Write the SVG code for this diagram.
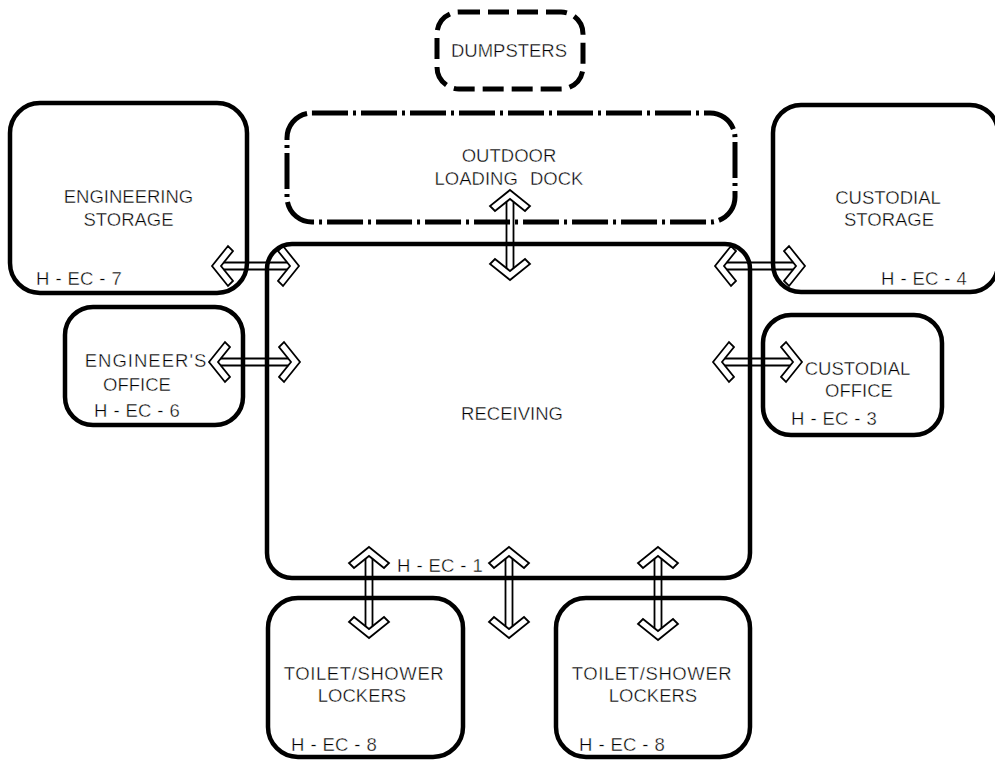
<svg xmlns="http://www.w3.org/2000/svg" xmlns:xlink="http://www.w3.org/1999/xlink" width="995" height="761" viewBox="0 0 995 761">
  <style>
    .room { fill: none; stroke: #000; stroke-width: 4.5; }
    .dash { fill: none; stroke: #000; stroke-width: 5; stroke-dasharray: 21 8; }
    .dashdot { fill: none; stroke: #000; stroke-width: 5; stroke-dasharray: 36 5 3 5; }
    .lbl, .tag { font-family: "Liberation Sans", Arial, sans-serif; font-size: 18.5px; fill: #000; stroke: #fff; stroke-width: 0.4; }
    .lbl { text-anchor: middle; }
    .head { fill: none; stroke: #000; stroke-width: 1.8; stroke-linejoin: miter; }
    .shaft { fill: none; stroke: #000; stroke-width: 1.8; }
  </style>
  <defs>
    <!-- open chevron arrowhead, tip at origin, pointing toward -x -->
    <path id="chev" class="head" d="M0,0 L16,-20 L21,-15 L9,0 L21,15 L16,20 Z"/>
  </defs>
  <rect width="995" height="761" fill="#fff"/>

  <g id="dumpsters">
    <rect class="dash" x="437" y="12" width="146" height="77" rx="22"/>
    <text class="lbl" x="509" y="57">DUMPSTERS</text>
  </g>

  <g id="loading-dock">
    <rect class="dashdot" x="287" y="113" width="448" height="109" rx="25"/>
    <text class="lbl" x="509" y="161.5">OUTDOOR</text>
    <text class="lbl" x="509" y="184.5" word-spacing="7">LOADING DOCK</text>
  </g>

  <g id="engineering-storage">
    <rect class="room" x="10" y="103" width="237" height="190" rx="30"/>
    <text class="lbl" x="128.5" y="203">ENGINEERING</text>
    <text class="lbl" x="128.5" y="226">STORAGE</text>
    <text class="tag" x="36" y="284.5">H<tspan dx="6">-</tspan><tspan dx="6">EC</tspan><tspan dx="6">-</tspan><tspan dx="6">7</tspan></text>
  </g>

  <g id="custodial-storage">
    <rect class="room" x="773" y="105" width="225" height="187" rx="28"/>
    <text class="lbl" x="888" y="204">CUSTODIAL</text>
    <text class="lbl" x="889" y="225.5">STORAGE</text>
    <text class="tag" x="881" y="284.5">H<tspan dx="6">-</tspan><tspan dx="6">EC</tspan><tspan dx="6">-</tspan><tspan dx="6">4</tspan></text>
  </g>

  <g id="engineers-office">
    <rect class="room" x="65" y="307" width="178" height="118" rx="28"/>
    <text class="lbl" x="146" y="367" letter-spacing="1">ENGINEER'S</text>
    <text class="lbl" x="137" y="390.5">OFFICE</text>
    <text class="tag" x="94" y="417">H<tspan dx="6">-</tspan><tspan dx="6">EC</tspan><tspan dx="6">-</tspan><tspan dx="6">6</tspan></text>
  </g>

  <g id="custodial-office">
    <rect class="room" x="763" y="315" width="179" height="120" rx="28"/>
    <text class="lbl" x="857.5" y="375">CUSTODIAL</text>
    <text class="lbl" x="859" y="397">OFFICE</text>
    <text class="tag" x="791" y="425">H<tspan dx="6">-</tspan><tspan dx="6">EC</tspan><tspan dx="6">-</tspan><tspan dx="6">3</tspan></text>
  </g>

  <g id="receiving">
    <rect class="room" x="267" y="244" width="483" height="334" rx="25"/>
    <text class="lbl" x="512" y="419.5">RECEIVING</text>
    <text class="tag" x="397" y="572">H<tspan dx="6">-</tspan><tspan dx="6">EC</tspan><tspan dx="6">-</tspan><tspan dx="6">1</tspan></text>
  </g>

  <g id="toilet-shower-1">
    <rect class="room" x="268" y="598" width="195" height="159" rx="30"/>
    <text class="lbl" x="364" y="680" letter-spacing="0.6">TOILET/SHOWER</text>
    <text class="lbl" x="362" y="702">LOCKERS</text>
    <text class="tag" x="291" y="751">H<tspan dx="6">-</tspan><tspan dx="6">EC</tspan><tspan dx="6">-</tspan><tspan dx="6">8</tspan></text>
  </g>

  <g id="toilet-shower-2">
    <rect class="room" x="556" y="598" width="194" height="159" rx="30"/>
    <text class="lbl" x="652" y="680" letter-spacing="0.6">TOILET/SHOWER</text>
    <text class="lbl" x="653" y="702">LOCKERS</text>
    <text class="tag" x="579" y="751">H<tspan dx="6">-</tspan><tspan dx="6">EC</tspan><tspan dx="6">-</tspan><tspan dx="6">8</tspan></text>
  </g>

  <g id="connectors">
    <!-- engineering storage <-> receiving -->
    <use xlink:href="#chev" transform="translate(212,266)"/>
    <use xlink:href="#chev" transform="translate(299,266) rotate(180)"/>
    <path class="shaft" d="M223.8,262.5 H287.2 M223.8,269.5 H287.2"/>
    <!-- engineer's office <-> receiving -->
    <use xlink:href="#chev" transform="translate(209,362)"/>
    <use xlink:href="#chev" transform="translate(300,362) rotate(180)"/>
    <path class="shaft" d="M220.8,358.5 H288.2 M220.8,365.5 H288.2"/>
    <!-- receiving <-> custodial storage -->
    <use xlink:href="#chev" transform="translate(715,266)"/>
    <use xlink:href="#chev" transform="translate(805,266) rotate(180)"/>
    <path class="shaft" d="M726.8,262.5 H793.2 M726.8,269.5 H793.2"/>
    <!-- receiving <-> custodial office -->
    <use xlink:href="#chev" transform="translate(713,362)"/>
    <use xlink:href="#chev" transform="translate(802,362) rotate(180)"/>
    <path class="shaft" d="M724.8,358.5 H790.2 M724.8,365.5 H790.2"/>
    <!-- loading dock <-> receiving -->
    <use xlink:href="#chev" transform="translate(510,190) rotate(90)"/>
    <use xlink:href="#chev" transform="translate(510,280) rotate(-90)"/>
    <path class="shaft" d="M506.5,201.8 V268.2 M513.5,201.8 V268.2"/>
    <!-- receiving <-> toilet/shower 1 -->
    <use xlink:href="#chev" transform="translate(369,547) rotate(90)"/>
    <use xlink:href="#chev" transform="translate(369,638) rotate(-90)"/>
    <path class="shaft" d="M365.5,558.8 V626.2 M372.5,558.8 V626.2"/>
    <!-- receiving, south exit -->
    <use xlink:href="#chev" transform="translate(509,547) rotate(90)"/>
    <use xlink:href="#chev" transform="translate(509,638) rotate(-90)"/>
    <path class="shaft" d="M505.5,558.8 V626.2 M512.5,558.8 V626.2"/>
    <!-- receiving <-> toilet/shower 2 -->
    <use xlink:href="#chev" transform="translate(658,547) rotate(90)"/>
    <use xlink:href="#chev" transform="translate(658,640) rotate(-90)"/>
    <path class="shaft" d="M654.5,558.8 V628.2 M661.5,558.8 V628.2"/>
  </g>
</svg>
